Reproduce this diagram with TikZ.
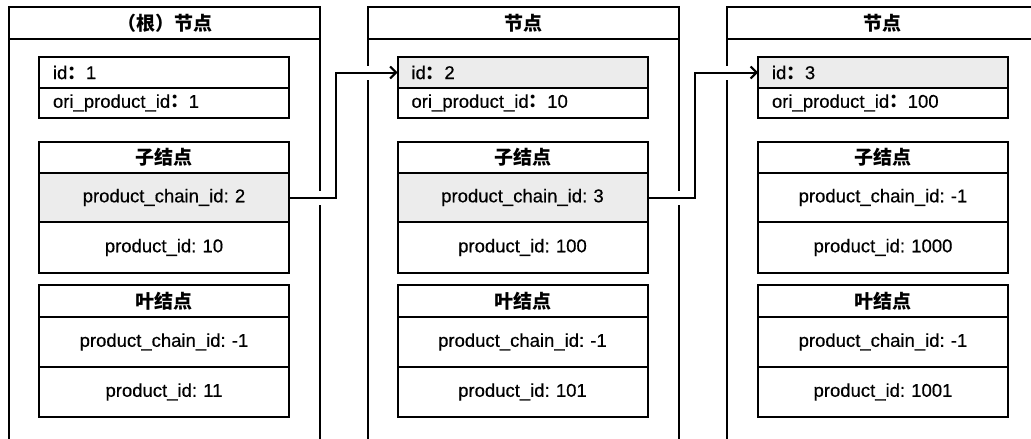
\documentclass[tikz,border=0pt]{standalone}
\usepackage{fontspec}
\setmainfont{Liberation Sans}[BoldFont={Liberation Sans}, BoldFeatures={FakeBold=0.5}]
\newfontfamily\cjk{Noto Sans CJK SC}
\usetikzlibrary{positioning,arrows.meta}
\definecolor{rowgray}{RGB}{236,236,236}
\tikzset{
  frame/.style={draw, line width=2pt, minimum width=311pt, inner sep=0pt, outer sep=0pt,
    font=\cjk\bfseries\fontsize{19}{21}\selectfont},
  row/.style={draw, line width=2pt, minimum width=250pt, text width=222pt, inner xsep=14pt,
    inner ysep=0pt, outer sep=0pt, font=\bfseries\frenchspacing\fontsize{18.5}{20}\selectfont},
  leftrow/.style={row, align=left},
  midrow/.style={row, align=center},
  hdr/.style={row, align=center, font=\cjk\bfseries\fontsize{19}{21}\selectfont},
  hit/.style={fill=rowgray},
  link/.style={line width=2pt, -{Straight Barb[length=6pt,width=12pt]},
    preaction={draw=white, line width=14pt, shorten <=3pt, shorten >=3pt, -}},
}
\begin{document}
\begin{tikzpicture}[x=1pt, y=-1pt]
	\useasboundingbox (0,0) rectangle (1031,439);
	\clip (0,0) rectangle (1031,439);
	% root node
	\node[frame, minimum height=32pt] (t1) at (164.5,23) {（根）节点};
	\node[frame, minimum height=440pt, below=0pt of t1] (b1) {};
	\node[leftrow, minimum height=31pt] (i1) at (164,72.5) {id{\cjk ：}1};
	\node[leftrow, minimum height=30pt, below=0pt of i1] (o1) {ori\_product\_id{\cjk ：}1};
	\node[hdr, minimum height=31pt] (s1) at (164,157.5) {子结点};
	\node[midrow, hit, minimum height=49pt, below=0pt of s1] (c1) {product\_chain\_id: 2};
	\node[midrow, minimum height=51pt, below=0pt of c1] (p1) {product\_id: 10};
	\node[hdr, minimum height=32pt] (y1) at (164,301) {叶结点};
	\node[midrow, minimum height=50pt, below=0pt of y1] (lc1) {product\_chain\_id: -1};
	\node[midrow, minimum height=50pt, below=0pt of lc1] (lp1) {product\_id: 11};
	% second node
	\node[frame, minimum height=32pt] (t2) at (523,23) {节点};
	\node[frame, minimum height=440pt, below=0pt of t2] (b2) {};
	\node[leftrow, hit, minimum height=31pt] (i2) at (522.5,72.5) {id{\cjk ：}2};
	\node[leftrow, minimum height=30pt, below=0pt of i2] (o2) {ori\_product\_id{\cjk ：}10};
	\node[hdr, minimum height=31pt] (s2) at (522.5,157.5) {子结点};
	\node[midrow, hit, minimum height=49pt, below=0pt of s2] (c2) {product\_chain\_id: 3};
	\node[midrow, minimum height=51pt, below=0pt of c2] (p2) {product\_id: 100};
	\node[hdr, minimum height=32pt] (y2) at (522.5,301) {叶结点};
	\node[midrow, minimum height=50pt, below=0pt of y2] (lc2) {product\_chain\_id: -1};
	\node[midrow, minimum height=50pt, below=0pt of lc2] (lp2) {product\_id: 101};
	% third node
	\node[frame, minimum height=32pt] (t3) at (882.5,23) {节点};
	\node[frame, minimum height=440pt, below=0pt of t3] (b3) {};
	\node[leftrow, hit, minimum height=31pt] (i3) at (883,72.5) {id{\cjk ：}3};
	\node[leftrow, minimum height=30pt, below=0pt of i3] (o3) {ori\_product\_id{\cjk ：}100};
	\node[hdr, minimum height=31pt] (s3) at (883,157.5) {子结点};
	\node[midrow, minimum height=49pt, below=0pt of s3] (c3) {product\_chain\_id: -1};
	\node[midrow, minimum height=51pt, below=0pt of c3] (p3) {product\_id: 1000};
	\node[hdr, minimum height=32pt] (y3) at (883,301) {叶结点};
	\node[midrow, minimum height=50pt, below=0pt of y3] (lc3) {product\_chain\_id: -1};
	\node[midrow, minimum height=50pt, below=0pt of lc3] (lp3) {product\_id: 1001};
	% chain links
	\draw[link] (c1.east) -- ++(47,0) |- (i2.west);
	\draw[link] (c2.east) -- ++(47,0) |- (i3.west);
\end{tikzpicture}
\end{document}
